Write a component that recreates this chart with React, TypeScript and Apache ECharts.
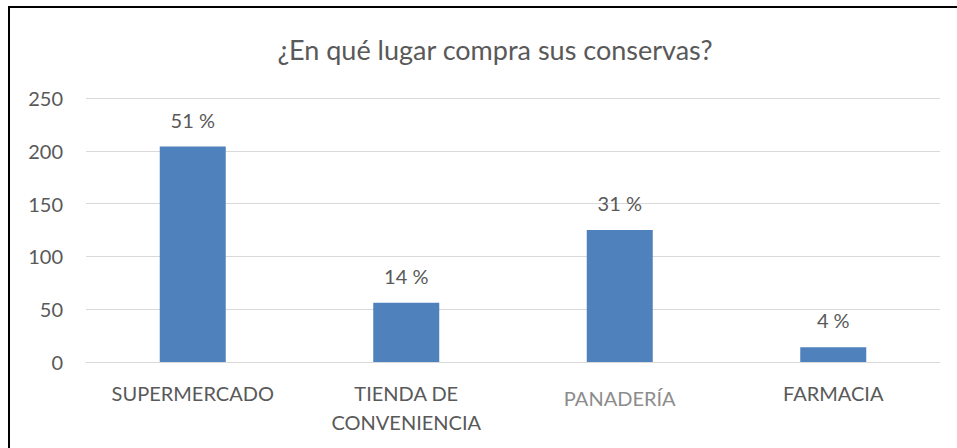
import React, { useEffect, useRef } from "react";
import * as echarts from "echarts";

const categories = ["SUPERMERCADO", "TIENDA DE\nCONVENIENCIA", "PANADERÍA", "FARMACIA"];
const values = [204, 56, 125, 14];
const percentLabels = ["51 %", "14 %", "31 %", "4 %"];
const titleText = "¿En qué lugar compra sus conservas?";

export default function App() {
  const ref = useRef<HTMLDivElement>(null);
  useEffect(() => {
    document.body.style.margin = "0";
    const chart = echarts.init(ref.current!, null, { renderer: "svg" });
    const font = "Lato, 'Noto Sans', sans-serif";
    chart.setOption({
      animation: false,
      backgroundColor: "#ffffff",
      title: {
        text: titleText,
        left: 490,
        textAlign: "center",
        top: 31,
        textStyle: { fontFamily: font, fontSize: 27, fontWeight: "normal", color: "#595959" },
      },
      graphic: [
        {
          type: "rect",
          shape: { x: 9, y: 7, width: 1000, height: 500 },
          style: { fill: "none", stroke: "#000000", lineWidth: 2 },
          silent: true,
        },
      ],
      grid: { left: 86, right: 17, top: 98, bottom: 86, containLabel: false },
      xAxis: {
        type: "category",
        data: categories,
        axisLine: { show: true, lineStyle: { color: "#d9d9d9", width: 1 } },
        axisTick: { show: false },
        axisLabel: {
          fontFamily: font,
          fontSize: 20,
          color: "#595959",
          margin: 16,
          lineHeight: 29,
          interval: 0,
          formatter: (v: string) => (v === "PANADERÍA" ? "{p|" + v + "}" : v),
          rich: {
            p: { fontFamily: font, fontSize: 20, color: "#8c8c8c", padding: [11, 0, 0, 0] },
          },
        },
      },
      yAxis: {
        type: "value",
        min: 0,
        max: 250,
        interval: 50,
        axisLine: { show: false },
        axisTick: { show: false },
        splitLine: { lineStyle: { color: "#d9d9d9", width: 1 } },
        axisLabel: { fontFamily: font, fontSize: 20, color: "#595959", margin: 23 },
      },
      series: [
        {
          type: "bar",
          data: values,
          barWidth: 66,
          itemStyle: { color: "#4f81bd" },
          label: {
            show: true,
            position: "top",
            distance: 17,
            fontFamily: font,
            fontSize: 20,
            color: "#595959",
            formatter: (p: any) => percentLabels[p.dataIndex],
          },
        },
      ],
    });
    return () => chart.dispose();
  }, []);
  return <div ref={ref} style={{ width: 957, height: 448, position: "absolute", left: 0, top: 0 }} />;
}
